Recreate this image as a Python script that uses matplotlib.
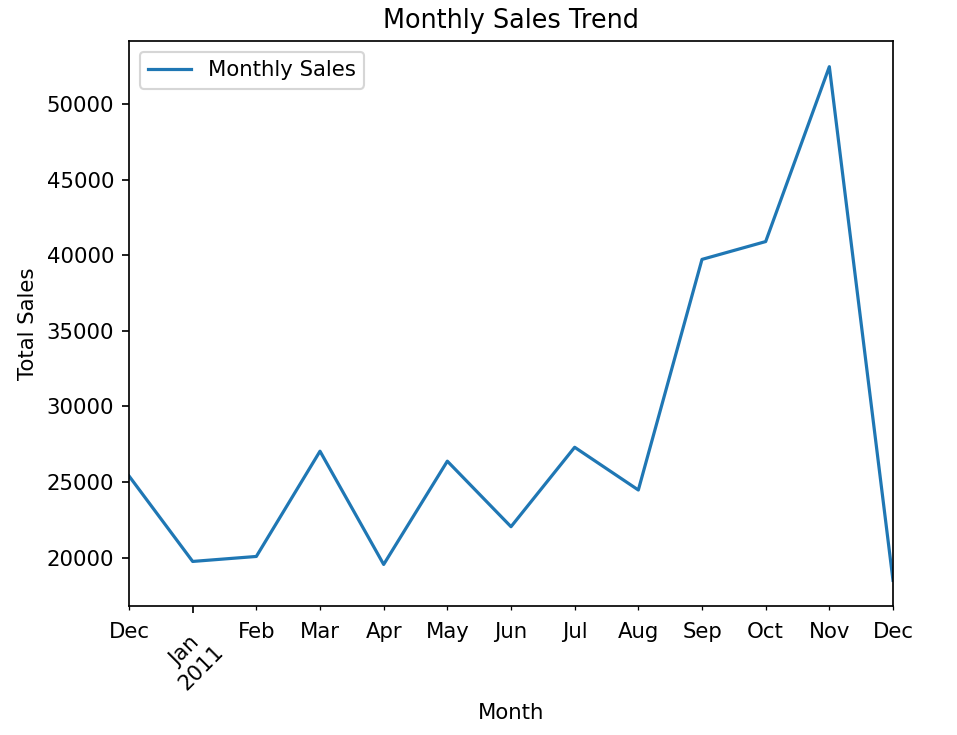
import numpy as np
import pandas as pd
import matplotlib; matplotlib.use("Agg")
import matplotlib.pyplot as plt

# monthly totals
months = pd.period_range("2010-12", "2011-12", freq="M")
sales = [25400, 19740, 20070, 27040, 19540, 26380, 22040,
         27300, 24470, 39740, 40920, 52500, 18490]

monthly = pd.Series(sales, index=months, name="Monthly Sales")

DPI = 153
fig = plt.figure(figsize=(957 / DPI, 735 / DPI), dpi=DPI)
ax = fig.add_axes([129 / 957, 1 - 606 / 735, (893 - 129) / 957, (606 - 41) / 735])
monthly.plot(ax=ax, label="Monthly Sales")
ax.set_title("Monthly Sales Trend")
ax.set_xlabel("Month", labelpad=4.2)
ax.set_ylabel("Total Sales")
ax.legend(loc="upper left")
ax.tick_params(axis="x", which="both", pad=5.5)
ax.tick_params(axis="x", which="major", rotation=45)
fig.savefig("out.png", dpi=DPI)
